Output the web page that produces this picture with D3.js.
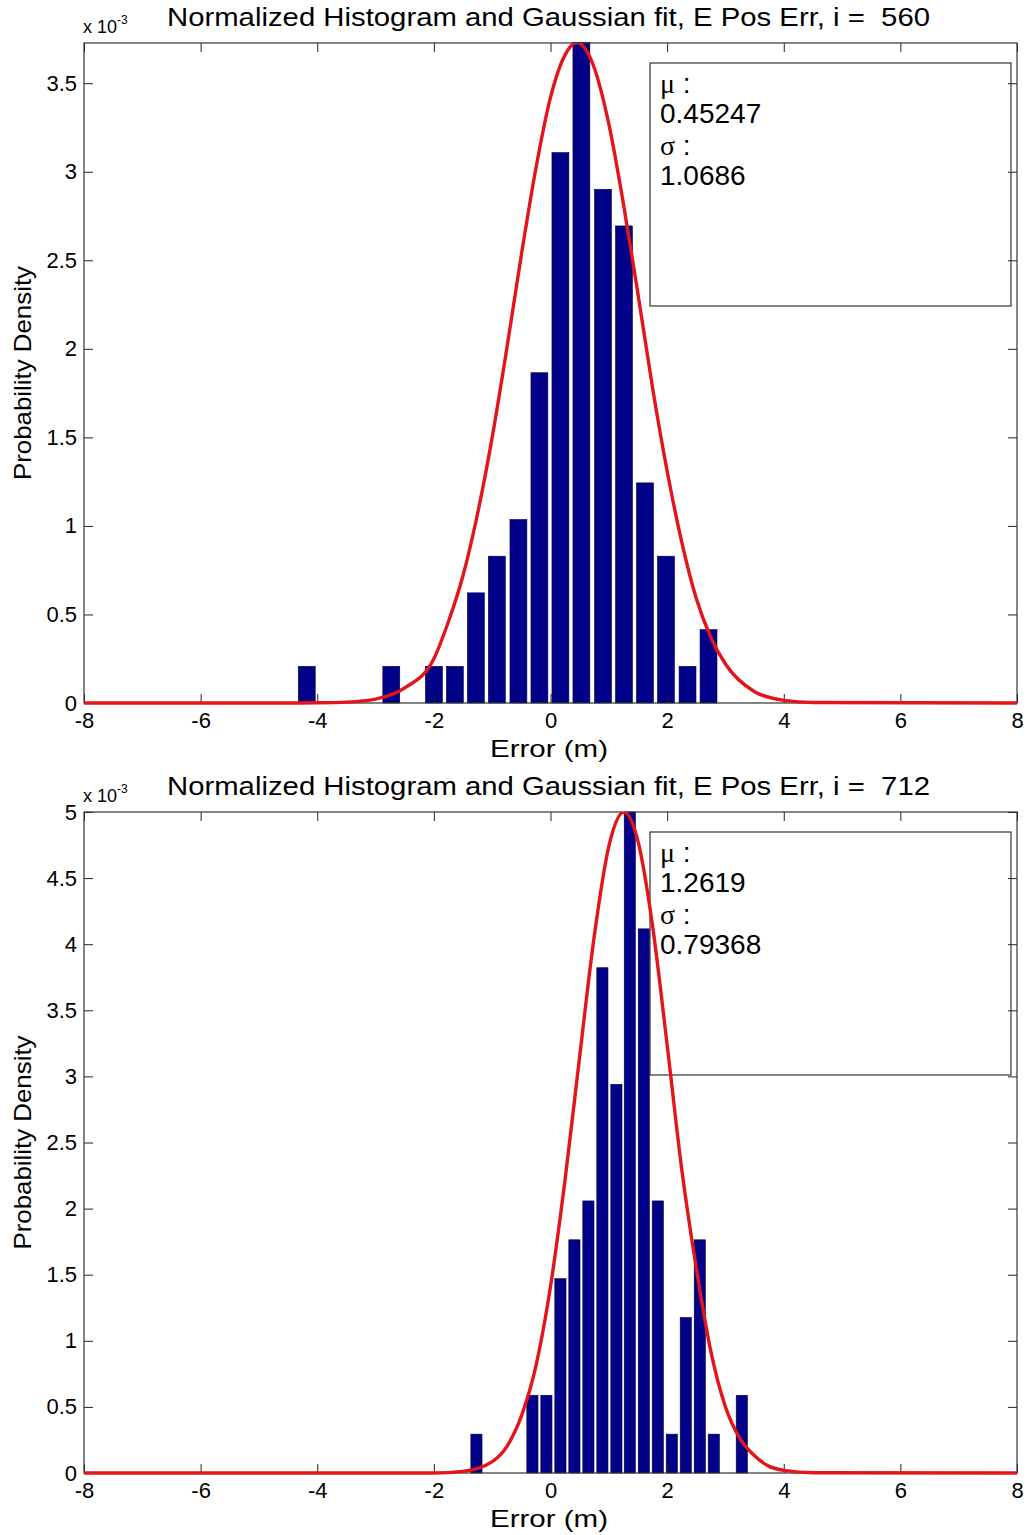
<!DOCTYPE html>
<html lang="en">
<head>
<meta charset="utf-8"/>
<title>Normalized Histogram and Gaussian fit</title>
<script src="https://cdn.jsdelivr.net/npm/d3@7/dist/d3.min.js"></script>
<style>
  body { margin: 0; background: #fff; }
  svg text { font-family: "Liberation Sans", Arial, sans-serif; fill: #000; white-space: pre; }
</style>
</head>
<body>
<div id="chart"></div>
<script>
// shared axis ticks
const xTicks = [-8, -6, -4, -2, 0, 2, 4, 6, 8];
const xTickLabels = ["-8", "-6", "-4", "-2", "0", "2", "4", "6", "8"];

// panel A, i = 560
const titleA = "Normalized Histogram and Gaussian fit, E Pos Err, i =  560";
const centersA = [-4.18, -3.82, -3.45, -3.09, -2.73, -2.37, -2.00, -1.64, -1.28, -0.92,
                  -0.55, -0.19, 0.17, 0.53, 0.90, 1.26, 1.62, 1.98, 2.35, 2.71];
const densA = [0.207, 0, 0, 0, 0.207, 0, 0.207, 0.207, 0.622, 0.829,
               1.036, 1.865, 3.108, 3.73, 2.901, 2.694, 1.243, 0.829, 0.207, 0.414];
const binWA = 0.3626;
const fitXA = [-8, -4.5, -4, -3.5, -3, -2.5, -2, -1.75, -1.5, -1.25, -1, -0.75, -0.5, -0.25,
               0, 0.25, 0.45, 0.7, 1, 1.25, 1.5, 1.75, 2, 2.25, 2.5, 2.75, 3, 3.5, 4, 4.5, 8];
const fitYA = [0, 0, 0.001, 0.005, 0.022, 0.085, 0.25, 0.46, 0.72, 1.07, 1.50, 2.00, 2.53, 3.02,
               3.42, 3.66, 3.73, 3.63, 3.27, 2.82, 2.31, 1.78, 1.31, 0.91, 0.59, 0.37, 0.22, 0.064, 0.015, 0.003, 0];
const yMaxA = 3.727;
const yTicksA = [0, 0.5, 1, 1.5, 2, 2.5, 3, 3.5];
const yTickLabelsA = ["0", "0.5", "1", "1.5", "2", "2.5", "3", "3.5"];
const statsA = ["0.45247", "1.0686"];

// panel B, i = 712
const titleB = "Normalized Histogram and Gaussian fit, E Pos Err, i =  712";
const centersB = [-1.27, -1.03, -0.79, -0.55, -0.31, -0.07, 0.17, 0.41, 0.65, 0.89,
                  1.13, 1.36, 1.60, 1.84, 2.08, 2.32, 2.56, 2.80, 3.04, 3.28];
const densB = [0.294, 0, 0, 0, 0.588, 0.588, 1.47, 1.764, 2.058, 3.822,
               2.94, 5.0, 4.116, 2.058, 0.294, 1.176, 1.764, 0.294, 0, 0.588];
const binWB = 0.2395;
const fitXB = [-8, -2, -1.5, -1, -0.75, -0.5, -0.25, 0, 0.25, 0.5, 0.75, 1, 1.26,
               1.5, 1.75, 2, 2.25, 2.5, 2.75, 3, 3.25, 3.5, 3.75, 4, 4.5, 8];
const fitYB = [0, 0, 0.012, 0.086, 0.2, 0.43, 0.81, 1.41, 2.22, 3.15, 4.06, 4.74, 5.0,
               4.78, 4.14, 3.24, 2.30, 1.55, 0.92, 0.50, 0.26, 0.13, 0.05, 0.02, 0.002, 0];
const yMaxB = 5;
const yTicksB = [0, 0.5, 1, 1.5, 2, 2.5, 3, 3.5, 4, 4.5, 5];
const yTickLabelsB = ["0", "0.5", "1", "1.5", "2", "2.5", "3", "3.5", "4", "4.5", "5"];
const statsB = ["1.2619", "0.79368"];

const svg = d3.select("#chart").append("svg")
  .attr("width", 1027)
  .attr("height", 1535);

const left = 84, right = 1017;

function panel(p, id) {
  const x = d3.scaleLinear().domain([-8, 8]).range([left, right]);
  const y = d3.scaleLinear().domain([0, p.yMax]).range([p.bottom, p.top]);
  const g = svg.append("g");

  g.append("clipPath").attr("id", "clip" + id)
    .append("rect")
    .attr("x", left).attr("y", p.top)
    .attr("width", right - left).attr("height", p.bottom - p.top + 2);

  // histogram bars
  const bars = p.centers.map((c, i) => ({ c: c, v: p.dens[i] })).filter(d => d.v > 0);
  g.selectAll("rect.bar")
    .data(bars)
    .join("rect")
    .attr("class", "bar")
    .attr("x", d => x(d.c - p.binW * 0.4))
    .attr("width", d => x(d.c + p.binW * 0.4) - x(d.c - p.binW * 0.4))
    .attr("y", d => y(d.v))
    .attr("height", d => y(0) - y(d.v))
    .attr("fill", "#000088")
    .attr("stroke", "#00003a")
    .attr("stroke-width", 0.6);

  // axes, MATLAB style ticks inside
  g.append("g")
    .attr("transform", `translate(0,${p.bottom})`)
    .call(d3.axisBottom(x).tickValues(xTicks).tickSizeInner(-9).tickSizeOuter(0)
      .tickPadding(9).tickFormat((d, i) => xTickLabels[i]))
    .call(a => a.select(".domain").remove())
    .call(a => a.selectAll("text").attr("font-size", 22));
  g.append("g")
    .attr("transform", `translate(0,${p.top})`)
    .call(d3.axisTop(x).tickValues(xTicks).tickSizeInner(-9).tickSizeOuter(0).tickFormat(""))
    .call(a => a.select(".domain").remove());
  g.append("g")
    .attr("transform", `translate(${left},0)`)
    .call(d3.axisLeft(y).tickValues(p.yTicks).tickSizeInner(-9).tickSizeOuter(0)
      .tickPadding(7).tickFormat((d, i) => p.yTickLabels[i]))
    .call(a => a.select(".domain").remove())
    .call(a => a.selectAll("text").attr("font-size", 22));
  g.append("g")
    .attr("transform", `translate(${right},0)`)
    .call(d3.axisRight(y).tickValues(p.yTicks).tickSizeInner(-9).tickSizeOuter(0).tickFormat(""))
    .call(a => a.select(".domain").remove());
  g.selectAll(".tick line").attr("stroke", "#222");

  g.append("rect")
    .attr("x", left).attr("y", p.top)
    .attr("width", right - left).attr("height", p.bottom - p.top)
    .attr("fill", "none")
    .attr("stroke", "#333")
    .attr("stroke-width", 1.2);

  // stats box
  const bx = 650, by = p.top + 20;
  g.append("rect")
    .attr("x", bx).attr("y", by)
    .attr("width", 361).attr("height", 243)
    .attr("fill", "none")
    .attr("stroke", "#333")
    .attr("stroke-width", 1.2);

  // gaussian fit
  const fit = p.fitX.map((v, i) => [v, p.fitY[i]]);
  g.append("path")
    .datum(fit)
    .attr("clip-path", `url(#clip${id})`)
    .attr("fill", "none")
    .attr("stroke", "#e3141b")
    .attr("stroke-width", 3.4)
    .attr("stroke-linejoin", "round")
    .attr("d", d3.line().x(d => x(d[0])).y(d => y(d[1])).curve(d3.curveMonotoneX));

  const lines = [["μ", " :"], [p.stats[0]], ["σ", " :"], [p.stats[1]]];
  const offs = [30, 60, 92, 122];
  lines.forEach((ln, i) => {
    const t = g.append("text")
      .attr("x", bx + 10).attr("y", by + offs[i])
      .attr("font-size", 28);
    if (ln.length > 1) {
      t.append("tspan").attr("font-family", "'Liberation Serif', 'Times New Roman', serif")
        .attr("font-size", 28).text(ln[0]);
      t.append("tspan").text(ln[1]);
    } else {
      t.text(ln[0]);
    }
  });

  // titles and labels
  g.append("text")
    .attr("x", 167).attr("y", p.top - 17)
    .attr("font-size", 25)
    .attr("textLength", 763)
    .attr("lengthAdjust", "spacingAndGlyphs")
    .text(p.title);

  const ex = g.append("text")
    .attr("x", 83).attr("y", p.top - 10)
    .attr("font-size", 18)
    .text("x 10");
  ex.append("tspan").attr("font-size", 12).attr("dy", -9).text("-3");

  g.append("text")
    .attr("x", 490).attr("y", p.bottom + 54)
    .attr("font-size", 24)
    .attr("textLength", 118)
    .attr("lengthAdjust", "spacingAndGlyphs")
    .text("Error (m)");

  const cy = (p.top + p.bottom) / 2;
  g.append("text")
    .attr("transform", `translate(31,${cy}) rotate(-90)`)
    .attr("x", -107).attr("y", 0)
    .attr("font-size", 24)
    .attr("textLength", 214)
    .attr("lengthAdjust", "spacingAndGlyphs")
    .text("Probability Density");
}

panel({
  title: titleA, centers: centersA, dens: densA, binW: binWA,
  fitX: fitXA, fitY: fitYA, yMax: yMaxA, yTicks: yTicksA, yTickLabels: yTickLabelsA,
  stats: statsA, top: 43, bottom: 703
}, "A");

panel({
  title: titleB, centers: centersB, dens: densB, binW: binWB,
  fitX: fitXB, fitY: fitYB, yMax: yMaxB, yTicks: yTicksB, yTickLabels: yTickLabelsB,
  stats: statsB, top: 812, bottom: 1473
}, "B");
</script>
</body>
</html>
